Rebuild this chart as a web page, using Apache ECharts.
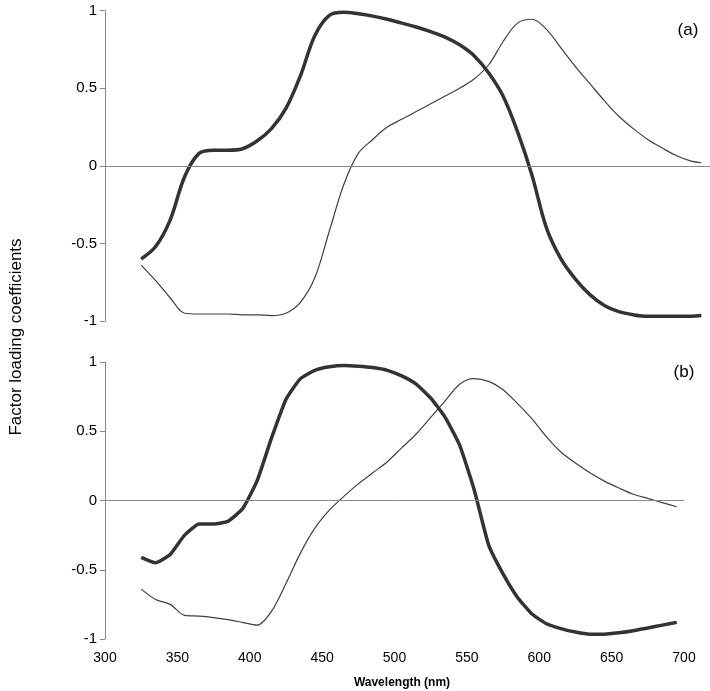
<!DOCTYPE html>
<html>
<head>
<meta charset="utf-8">
<script src="https://cdn.jsdelivr.net/npm/echarts@6/dist/echarts.min.js"></script>
<style>
html,body{margin:0;padding:0;background:#fff;}
#chart{width:710px;height:691px;}
</style>
</head>
<body>
<div id="chart"></div>
<script>
// ---- Data (a) ----
var wlA = [325,335,345,355,365,375,385,395,405,415,425,435,445,455,465,475,485,495,505,515,525,535,545,555,565,575,585,595,605,615,625,635,645,655,665,675,685,695,705,712];
var thickA = [-0.60,-0.52,-0.35,-0.07,0.08,0.10,0.10,0.11,0.16,0.24,0.37,0.58,0.84,0.97,0.99,0.98,0.965,0.945,0.92,0.895,0.865,0.83,0.78,0.71,0.60,0.45,0.22,-0.06,-0.40,-0.60,-0.73,-0.83,-0.90,-0.94,-0.96,-0.97,-0.97,-0.97,-0.97,-0.965];
var thinA = [-0.64,-0.74,-0.85,-0.95,-0.955,-0.955,-0.955,-0.96,-0.96,-0.965,-0.95,-0.88,-0.72,-0.42,-0.12,0.08,0.17,0.25,0.30,0.35,0.40,0.45,0.50,0.56,0.65,0.80,0.92,0.945,0.88,0.76,0.64,0.53,0.42,0.32,0.24,0.17,0.115,0.065,0.03,0.02];
// ---- Data (b) ----
var wlB = [325,335,345,355,365,375,385,395,405,415,425,435,445,455,465,475,485,495,505,515,525,535,545,555,565,575,585,595,605,615,625,635,645,655,665,675,685,695];
var thickB = [-0.41,-0.45,-0.39,-0.25,-0.17,-0.17,-0.15,-0.06,0.14,0.45,0.73,0.88,0.94,0.965,0.975,0.97,0.96,0.94,0.90,0.84,0.74,0.60,0.40,0.08,-0.32,-0.53,-0.70,-0.82,-0.89,-0.925,-0.95,-0.965,-0.965,-0.955,-0.94,-0.92,-0.90,-0.88];
var thinB = [-0.64,-0.715,-0.75,-0.83,-0.835,-0.845,-0.86,-0.88,-0.90,-0.80,-0.60,-0.38,-0.20,-0.07,0.03,0.12,0.20,0.28,0.38,0.48,0.60,0.72,0.84,0.88,0.86,0.80,0.70,0.59,0.46,0.35,0.27,0.20,0.14,0.09,0.045,0.015,-0.015,-0.045];
var xTicks = [300,350,400,450,500,550,600,650,700];
var yTicks = [-1,-0.5,0,0.5,1];

function pairs(xs, ys){ return xs.map(function(x,i){ return [x, ys[i]]; }); }

var FONT = 'Liberation Sans, Arial, sans-serif';
var chart = echarts.init(document.getElementById('chart'), null, {renderer:'canvas'});

var yAxisCommon = {
  type:'value', min:yTicks[0], max:yTicks[yTicks.length-1], interval:0.5,
  axisLine:{show:true, lineStyle:{color:'#888', width:1}},
  axisTick:{show:true, length:5, lineStyle:{color:'#888'}},
  axisLabel:{color:'#000', fontSize:15, fontFamily:FONT, margin:8},
  splitLine:{show:false}
};
var zeroLine = {
  silent:true, symbol:['none','none'], label:{show:false},
  lineStyle:{color:'#888', width:1, type:'solid'},
  data:[{yAxis:0}]
};
function lineSeries(x, y, data, w, c, smooth, ml){
  var s = {type:'line', xAxisIndex:x, yAxisIndex:y, data:data, showSymbol:false, smooth:smooth,
    lineStyle:{width:w, color:c}, itemStyle:{color:c}, z:3, animation:false};
  if (ml) s.markLine = zeroLine;
  return s;
}

chart.setOption({
  animation:false,
  grid:[
    {left:105, top:10.7, height:310.3, right:0},
    {left:105, top:362, height:277, right:26}
  ],
  xAxis:[
    {gridIndex:0, type:'value', min:300, max:718, show:false, splitLine:{show:false}},
    {gridIndex:1, type:'value', min:xTicks[0], max:xTicks[xTicks.length-1], interval:50,
     axisLine:{show:false, onZero:false}, axisTick:{show:false}, splitLine:{show:false},
     axisLabel:{color:'#000', fontSize:14, fontFamily:FONT, margin:12}}
  ],
  yAxis:[
    Object.assign({gridIndex:0}, yAxisCommon),
    Object.assign({gridIndex:1}, yAxisCommon)
  ],
  series:[
    lineSeries(0,0,pairs(wlA,thinA),1.2,'#404040',0.35,true),
    lineSeries(0,0,pairs(wlA,thickA),3.5,'#333',0.35,false),
    lineSeries(1,1,pairs(wlB,thinB),1.2,'#404040',0.3,true),
    lineSeries(1,1,pairs(wlB,thickB),3.5,'#333',0.15,false)
  ],
  graphic:[
    {type:'text', x:16, y:337, rotation:Math.PI/2,
     style:{text:'Factor loading coefficients', font:'17px '+FONT, fill:'#000', textAlign:'center', textVerticalAlign:'middle'}},
    {type:'text', style:{text:'(a)', font:'17px '+FONT, fill:'#000', x:688, y:30, textAlign:'center', textVerticalAlign:'middle'}},
    {type:'text', style:{text:'(b)', font:'17px '+FONT, fill:'#000', x:684, y:372, textAlign:'center', textVerticalAlign:'middle'}},
    {type:'text', style:{text:'Wavelength (nm)', font:'bold 12px '+FONT, fill:'#000', x:402, y:683, textAlign:'center', textVerticalAlign:'middle'}}
  ]
});
</script>
</body>
</html>
